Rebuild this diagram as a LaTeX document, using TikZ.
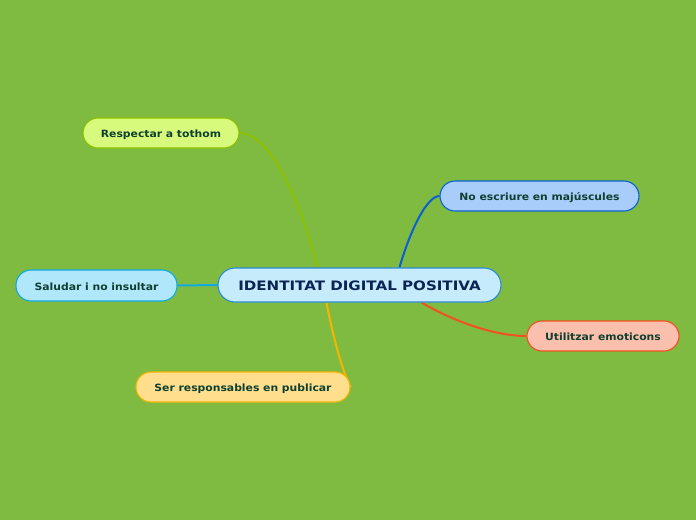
\documentclass[tikz,border=0pt]{standalone}
\usepackage{fontspec}
\setmainfont{DejaVu Sans}
\newfontfamily\leaffont{DejaVu Sans}[FakeStretch=1.08]
\newfontfamily\rootfont{DejaVu Sans}[FakeStretch=1.16]
\usepackage{tikz}

\pgfdeclarelayer{back}
\pgfdeclarelayer{links}
\pgfsetlayers{back,links,main}

\definecolor{bggreen}{HTML}{80BB41}
\definecolor{leaftext}{HTML}{0F3F2F}
\definecolor{roottext}{HTML}{0B2454}
\definecolor{rootline}{HTML}{2A8BD6}
\definecolor{rootfill}{HTML}{C6ECFC}
\definecolor{limeline}{HTML}{8CC000}
\definecolor{limefill}{HTML}{D8FA7C}
\definecolor{blueline}{HTML}{0B5FD2}
\definecolor{bluefill}{HTML}{A8CDFB}
\definecolor{cyanline}{HTML}{12A9E1}
\definecolor{cyanfill}{HTML}{B1E7FB}
\definecolor{goldline}{HTML}{F6B500}
\definecolor{goldfill}{HTML}{FFDF8E}
\definecolor{redline}{HTML}{F1511E}
\definecolor{redfill}{HTML}{FBBFAD}

\begin{document}
\begin{tikzpicture}[x=1pt, y=-1pt,
  topic/.style={rounded corners=15pt, line width=1.1pt, inner sep=0pt, minimum height=30pt, text height=9pt, text depth=0pt, text=leaftext, font=\leaffont\bfseries\fontsize{10}{12}\selectfont},
  link/.style={line width=2pt}]

\begin{pgfonlayer}{back}
\fill[bggreen] (0,0) rectangle (696,520);
\end{pgfonlayer}
\useasboundingbox (0,0) rectangle (696,520);

\node[topic, draw=rootline, fill=rootfill, minimum width=283pt, minimum height=34pt, rounded corners=17pt, text height=11pt, text=roottext, font=\rootfont\bfseries\fontsize{13}{15}\selectfont] (root) at (359.5,285) {IDENTITAT DIGITAL POSITIVA};

\node[topic, draw=limeline, fill=limefill, minimum width=156pt] (respectar) at (161,133) {Respectar a tothom};
\node[topic, draw=blueline, fill=bluefill, minimum width=199pt] (majuscules) at (539.5,196) {No escriure en majúscules};
\node[topic, draw=cyanline, fill=cyanfill, minimum width=161pt, minimum height=31pt] (saludar) at (96.5,285.5) {Saludar i no insultar};
\node[topic, draw=goldline, fill=goldfill, minimum width=214pt] (publicar) at (243,387) {Ser responsables en publicar};
\node[topic, draw=redline, fill=redfill, minimum width=152pt] (emoticons) at (603,336) {Utilitzar emoticons};

\coordinate (rootTL) at ([xshift=100pt]root.north west);
\coordinate (rootTR) at ([xshift=182pt]root.north west);
\coordinate (rootBL) at ([xshift=109pt]root.south west);
\coordinate (rootBR) at ([xshift=204pt]root.south west);

\begin{pgfonlayer}{links}
\draw[link, limeline] (respectar.east) .. controls (270,133) and (300,200) .. (rootTL);
\draw[link, blueline] (majuscules.west) .. controls (428,196) and (412,225) .. (rootTR);
\draw[link, cyanline] (saludar.east) -- (root.west);
\draw[link, goldline] (rootBL) .. controls (333,335) and (340,365) .. (publicar.east);
\draw[link, redline] (rootBR) .. controls (455,322) and (495,336) .. (emoticons.west);
\end{pgfonlayer}

\end{tikzpicture}
\end{document}
